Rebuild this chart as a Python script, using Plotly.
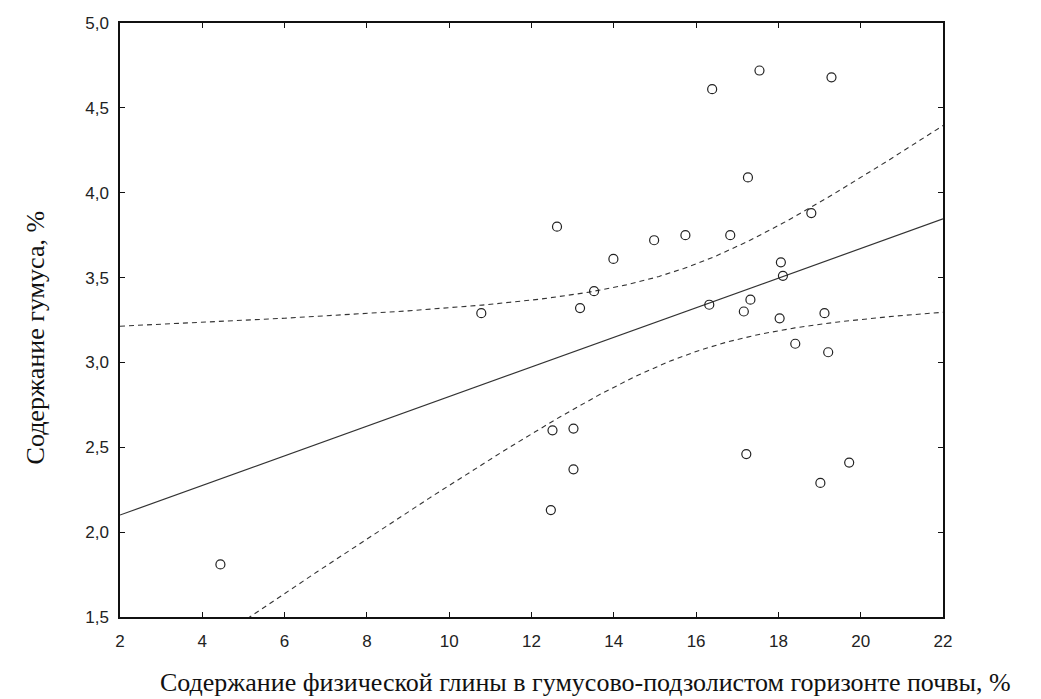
import numpy as np
import plotly.graph_objects as go

# Data
clay = [16.39, 17.54, 19.29, 17.26, 18.80, 12.62, 14.98, 15.74, 16.83, 13.99,
        18.06, 18.11, 13.52, 10.78, 13.18, 16.32, 17.32, 17.16, 18.03, 19.12,
        18.41, 19.21, 12.51, 13.02, 13.02, 12.47, 17.22, 19.72, 19.02, 4.44]
humus = [4.61, 4.72, 4.68, 4.09, 3.88, 3.80, 3.72, 3.75, 3.75, 3.61,
         3.59, 3.51, 3.42, 3.29, 3.32, 3.34, 3.37, 3.30, 3.26, 3.29,
         3.11, 3.06, 2.60, 2.61, 2.37, 2.13, 2.46, 2.41, 2.29, 1.81]
x_ticks = [2, 4, 6, 8, 10, 12, 14, 16, 18, 20, 22]
y_ticks = [1.5, 2.0, 2.5, 3.0, 3.5, 4.0, 4.5, 5.0]
x_title = "Содержание физической глины в гумусово-подзолистом горизонте почвы, %"
y_title = "Содержание гумуса, %"
T_CRIT = 2.048  # t(0.975, n-2=28)

x = np.array(clay)
y = np.array(humus)
n = len(x)
slope, intercept = np.polyfit(x, y, 1)
resid = y - (slope * x + intercept)
s = np.sqrt(np.sum(resid ** 2) / (n - 2))
sxx = np.sum((x - x.mean()) ** 2)
xs = np.linspace(2, 22, 201)
fit = slope * xs + intercept
hw = T_CRIT * s * np.sqrt(1 / n + (xs - x.mean()) ** 2 / sxx)

fig = go.Figure()
fig.add_trace(go.Scatter(x=xs, y=fit, mode="lines",
                         line=dict(color="#333", width=1.2), hoverinfo="skip"))
fig.add_trace(go.Scatter(x=xs, y=fit + hw, mode="lines",
                         line=dict(color="#333", width=1.1, dash="5px,4px"), hoverinfo="skip"))
fig.add_trace(go.Scatter(x=xs, y=fit - hw, mode="lines",
                         line=dict(color="#333", width=1.1, dash="5px,4px"), hoverinfo="skip"))
fig.add_trace(go.Scatter(x=clay, y=humus, mode="markers",
                         marker=dict(symbol="circle-open", size=9, color="#222",
                                     line=dict(width=1.2, color="#222"))))

axis_common = dict(showgrid=False, zeroline=False, showline=True, linecolor="#111",
                   linewidth=1.5, mirror="allticks", ticks="inside", ticklen=5,
                   tickcolor="#111", tickfont=dict(family="Liberation Sans, Arial", size=17, color="#222"))
fig.update_xaxes(range=[2, 22], tickvals=x_ticks, ticklabelstandoff=8, **axis_common)
fig.update_yaxes(range=[1.5, 5.0], tickvals=y_ticks, tickformat=".1f", ticklabelstandoff=6, **axis_common)

fig.add_annotation(text=x_title, xref="paper", yref="paper", x=0.566, y=-0.111,
                   xanchor="center", yanchor="middle", showarrow=False,
                   font=dict(family="Liberation Serif, Times New Roman", size=26, color="#111"))
fig.add_annotation(text=y_title, xref="paper", yref="paper", x=-0.103, y=0.471,
                   xanchor="center", yanchor="middle", showarrow=False, textangle=-90,
                   font=dict(family="Liberation Serif, Times New Roman", size=26, color="#111"))

fig.update_layout(width=1041, height=699, separators=", ",
                  margin=dict(l=120, r=98, t=23, b=82),
                  plot_bgcolor="white", paper_bgcolor="white", showlegend=False)
fig.write_html("out.html", config={"displayModeBar": False},
               post_script="document.body.style.margin='0';")
